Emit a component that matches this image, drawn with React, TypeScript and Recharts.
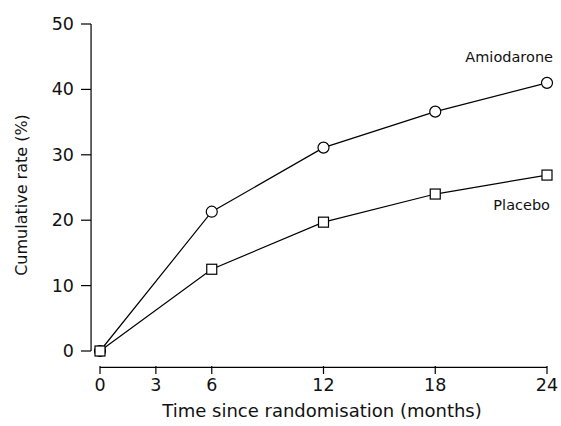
import { LineChart, Line, XAxis, YAxis, ReferenceLine, LabelList } from "recharts";

const months = [0, 6, 12, 18, 24];
const amiodarone = [0, 21.3, 31.1, 36.6, 41.0];
const placebo = [0, 12.5, 19.7, 24.0, 26.9];
const xTicks = [0, 3, 6, 12, 18, 24];
const yTicks = [0, 10, 20, 30, 40, 50];

const data = months.map((m, i) => ({ month: m, Amiodarone: amiodarone[i], Placebo: placebo[i] }));

const FONT = "'DejaVu Sans', Verdana, sans-serif";
// axes are drawn detached from the plot corner
const X_AXIS_AT = -2.5;
const Y_AXIS_AT = -0.48;

function XTick({ x, y, payload }: any) {
  return (
    <g>
      <line x1={x} y1={y + 15} x2={x} y2={y + 23} stroke="#000" strokeWidth={1.2} />
      <text x={x} y={y + 40} textAnchor="middle" fontSize={17.5} fontFamily={FONT} fill="#111">
        {payload.value}
      </text>
    </g>
  );
}

function YTick({ x, y, payload }: any) {
  return (
    <g>
      <line x1={x - 19} y1={y} x2={x - 9} y2={y} stroke="#000" strokeWidth={1.2} />
      <text x={x - 26} y={y + 6} textAnchor="end" fontSize={17.5} fontFamily={FONT} fill="#111">
        {payload.value}
      </text>
    </g>
  );
}

const circleDot = ({ cx, cy, index }: any) => (
  <circle key={index} cx={cx} cy={cy} r={5.5} fill="#fff" stroke="#000" strokeWidth={1.2} />
);

const squareDot = ({ cx, cy, index }: any) => (
  <rect key={index} x={cx - 5} y={cy - 5} width={10} height={10} fill="#fff" stroke="#000" strokeWidth={1.2} />
);

const endLabel = (name: string, dx: number, dy: number) => (props: any) => {
  if (props.index !== months.length - 1) return null;
  return (
    <text x={props.x + dx} y={props.y + dy} textAnchor="end" fontSize={14.5} fontFamily={FONT} fill="#111">
      {name}
    </text>
  );
};

export default function App() {
  return (
    <div style={{ position: "absolute", left: 0, top: 0, background: "#fff" }}>
      <LineChart width={561} height={426} data={data} margin={{ top: 24, right: 14, bottom: 0, left: 40 }}>
        <XAxis
          dataKey="month"
          type="number"
          domain={[0, 24]}
          ticks={xTicks}
          axisLine={false}
          tickLine={false}
          tickSize={0}
          tickMargin={0}
          height={75}
          tick={<XTick />}
          interval={0}
        />
        <YAxis
          type="number"
          domain={[0, 50]}
          ticks={yTicks}
          axisLine={false}
          tickLine={false}
          tickSize={0}
          tickMargin={0}
          width={60}
          tick={<YTick />}
          interval={0}
        />
        <ReferenceLine
          segment={[{ x: 0, y: X_AXIS_AT }, { x: 24, y: X_AXIS_AT }]}
          stroke="#000"
          strokeWidth={1.2}
          ifOverflow="visible"
        />
        <ReferenceLine
          segment={[{ x: Y_AXIS_AT, y: 0 }, { x: Y_AXIS_AT, y: 50 }]}
          stroke="#000"
          strokeWidth={1.2}
          ifOverflow="visible"
        />
        <Line
          dataKey="Amiodarone"
          stroke="#000"
          strokeWidth={1.2}
          dot={circleDot}
          activeDot={false}
          isAnimationActive={false}
        >
          <LabelList dataKey="Amiodarone" content={endLabel("Amiodarone", 6, -21)} />
        </Line>
        <Line
          dataKey="Placebo"
          stroke="#000"
          strokeWidth={1.2}
          dot={squareDot}
          activeDot={false}
          isAnimationActive={false}
        >
          <LabelList dataKey="Placebo" content={endLabel("Placebo", 3, 35)} />
        </Line>
        <text
          x={27}
          y={195}
          transform="rotate(-90 27 195)"
          textAnchor="middle"
          fontSize={16}
          fontFamily={FONT}
          fill="#111"
        >
          Cumulative rate (%)
        </text>
        <text x={322} y={417} textAnchor="middle" fontSize={18} fontFamily={FONT} fill="#111">
          Time since randomisation (months)
        </text>
      </LineChart>
    </div>
  );
}
